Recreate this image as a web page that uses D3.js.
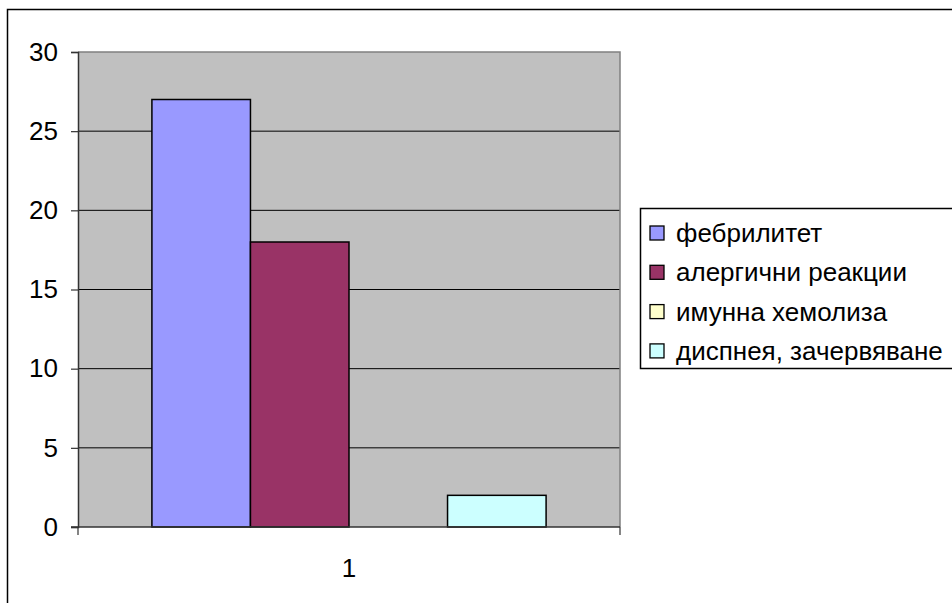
<!DOCTYPE html>
<html>
<head>
<meta charset="utf-8">
<script src="https://cdn.jsdelivr.net/npm/d3@7/dist/d3.min.js"></script>
<style>
  html, body { margin: 0; padding: 0; background: #fff; }
  svg { display: block; font-family: Arial, "Liberation Sans", sans-serif; }
</style>
</head>
<body>
<svg id="chart" width="952" height="603"></svg>
<script>
// Chart data
const categories = ["1"];
const seriesNames = ["фебрилитет", "алергични реакции", "имунна хемолиза", "диспнея, зачервяване"];
const seriesValues = [27, 18, 0, 2];
const seriesColors = ["#9999FF", "#993366", "#FFFFCC", "#CCFFFF"];
const yTicks = [0, 5, 10, 15, 20, 25, 30];

const svg = d3.select("#chart");
const W = 952, H = 603;
const FS = 26;

// Outer chart frame (runs past the right and bottom edges)
svg.append("rect")
  .attr("x", 7.5).attr("y", 9.5)
  .attr("width", W + 20).attr("height", H + 20)
  .attr("fill", "#fff").attr("stroke", "#000").attr("stroke-width", 1.5);

const plot = { left: 78, top: 52, right: 620, bottom: 527 };

const y = d3.scaleLinear().domain([0, 30]).range([plot.bottom, plot.top]);
const x0 = d3.scaleBand().domain(categories).range([plot.left, plot.right])
  .paddingInner(0).paddingOuter(0);
// 150% gap between groups: bars occupy 4/(4+1.5) of the category width
const groupW = x0.bandwidth() * 4 / 5.5;
const x1 = d3.scaleBand().domain(seriesNames)
  .range([0, groupW]).padding(0);

// Plot area background
svg.append("rect")
  .attr("x", plot.left).attr("y", plot.top)
  .attr("width", plot.right - plot.left).attr("height", plot.bottom - plot.top)
  .attr("fill", "#C0C0C0");

// Horizontal gridlines
svg.append("g")
  .selectAll("line")
  .data(yTicks.filter(d => d > 0 && d < 30))
  .join("line")
  .attr("x1", plot.left).attr("x2", plot.right)
  .attr("y1", d => y(d)).attr("y2", d => y(d))
  .attr("stroke", "#000").attr("stroke-width", 1);

// Plot area border (top & right in grey)
svg.append("path")
  .attr("d", `M${plot.left},${plot.top}H${plot.right}V${plot.bottom}`)
  .attr("fill", "none").attr("stroke", "#808080").attr("stroke-width", 1.5);

// Bars
const groupOffset = (x0.bandwidth() - groupW) / 2;
svg.append("g")
  .selectAll("rect")
  .data(seriesNames.map((n, i) => ({ name: n, value: seriesValues[i], color: seriesColors[i] })))
  .join("rect")
  .filter(d => d.value > 0)
  .attr("x", d => x0(categories[0]) + groupOffset + x1(d.name))
  .attr("y", d => y(d.value))
  .attr("width", x1.bandwidth())
  .attr("height", d => y(0) - y(d.value))
  .attr("fill", d => d.color)
  .attr("stroke", "#000").attr("stroke-width", 1.5);

// Y axis
const yAxis = d3.axisLeft(y).tickValues(yTicks).tickSize(7).tickPadding(13);
const gy = svg.append("g").attr("transform", `translate(${plot.left},0)`).call(yAxis);
gy.select(".domain").attr("stroke", "#333").attr("stroke-width", 1.5);
gy.selectAll(".tick line").attr("stroke", "#333").attr("stroke-width", 1.2);
gy.selectAll(".tick text").attr("font-size", FS).attr("fill", "#000")
  .attr("font-family", "Arial, 'Liberation Sans', sans-serif");

// X axis
const gx = svg.append("g").attr("transform", `translate(0,${plot.bottom})`);
gx.append("line")
  .attr("x1", plot.left - 7).attr("x2", plot.right)
  .attr("stroke", "#333").attr("stroke-width", 1.5);
gx.selectAll("line.tk")
  .data([plot.left, plot.right])
  .join("line").attr("class", "tk")
  .attr("x1", d => d).attr("x2", d => d)
  .attr("y1", 0).attr("y2", 8)
  .attr("stroke", "#333").attr("stroke-width", 1.2);
gx.selectAll("text")
  .data(categories)
  .join("text")
  .attr("x", d => x0(d) + x0.bandwidth() / 2)
  .attr("y", 50)
  .attr("text-anchor", "middle")
  .attr("font-size", FS)
  .text(d => d);

// Legend
const lg = svg.append("g");
lg.append("rect")
  .attr("x", 640.5).attr("y", 208.5)
  .attr("width", 340).attr("height", 160)
  .attr("fill", "#fff").attr("stroke", "#000").attr("stroke-width", 1.5);
const items = lg.selectAll("g.item")
  .data(seriesNames)
  .join("g").attr("class", "item")
  .attr("transform", (d, i) => `translate(650,${233 + i * 39.3})`);
items.append("rect")
  .attr("x", 0).attr("y", -7).attr("width", 14).attr("height", 14)
  .attr("fill", (d, i) => seriesColors[i])
  .attr("stroke", "#000").attr("stroke-width", 1.3);
items.append("text")
  .attr("x", 26).attr("y", 0).attr("dy", "0.35em")
  .attr("font-size", FS)
  .text(d => d);
</script>
</body>
</html>
